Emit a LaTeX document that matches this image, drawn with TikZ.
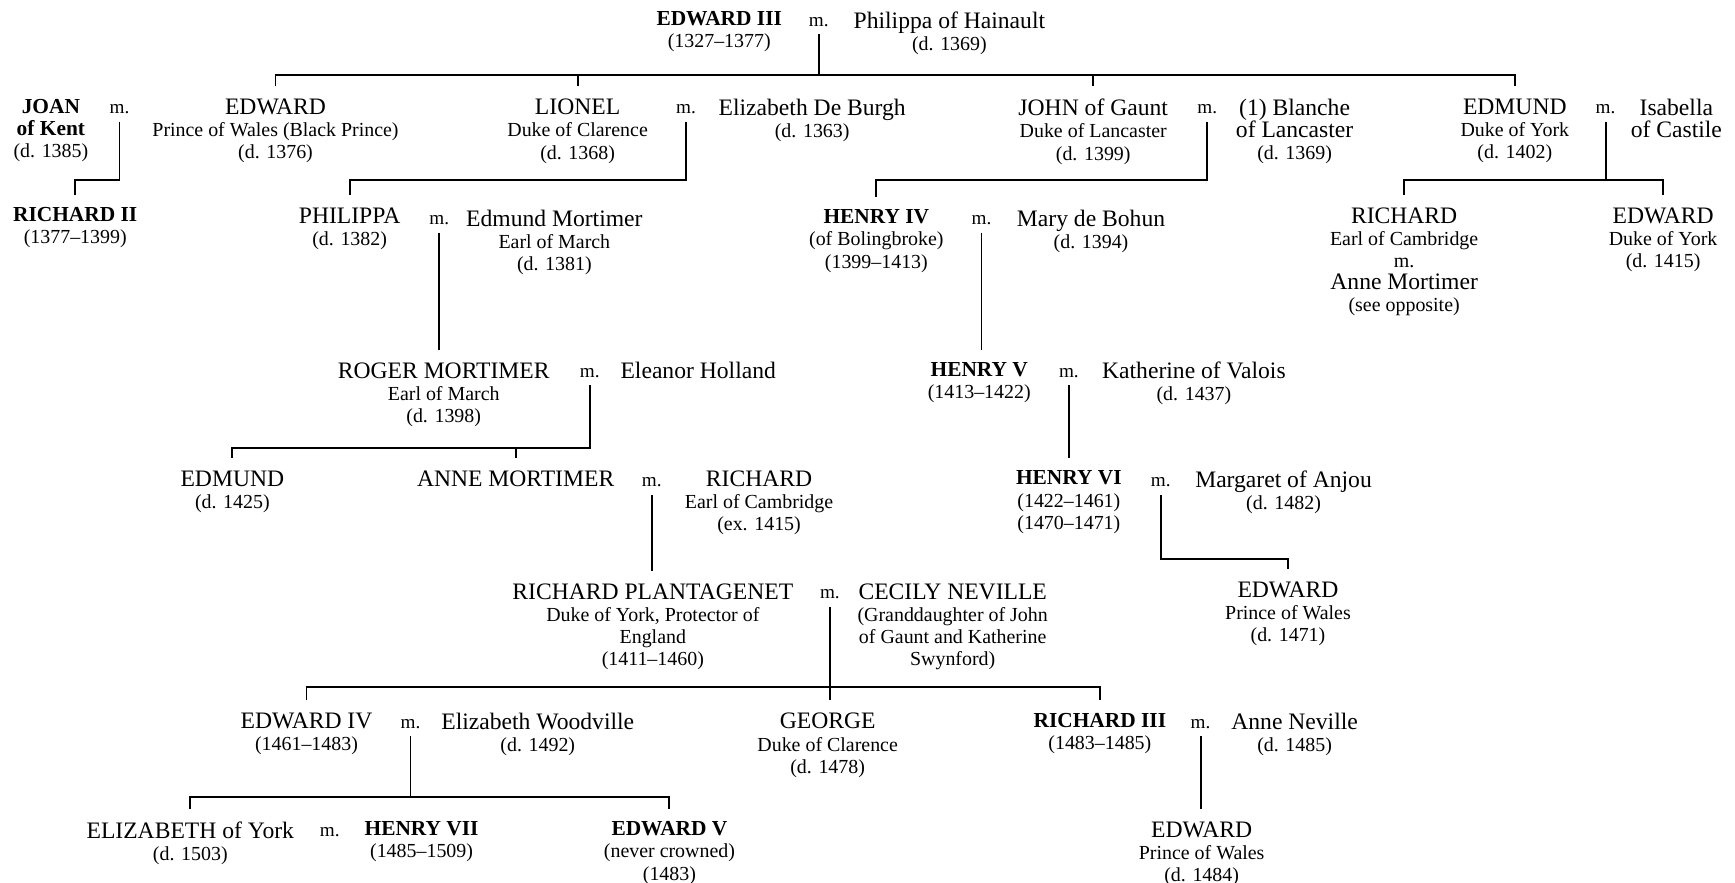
\documentclass[tikz,border=0pt]{standalone}
\usepackage{fontspec}
\setmainfont{Liberation Serif}
\usepackage{tikz}

\newcommand{\yr}[1]{{\fontsize{13.5}{15}\selectfont #1}}
\newcommand{\kg}[1]{{\fontsize{14.5}{15}\selectfont\bfseries #1}}

\tikzset{
  person/.style={align=center, anchor=north, inner xsep=0pt, inner ysep=8.5pt, font=\fontsize{16}{15}\selectfont},
  wed/.style={anchor=base, inner sep=5pt, font=\fontsize{13}{15}\selectfont},
  line/.style={line width=1.3pt}
}

\begin{document}
\begin{tikzpicture}[x=0.75pt,y=0.75pt,yscale=-1,xscale=1]
\useasboundingbox (0,0) rectangle (1568,798);

% Text Node
\node [person] (edw3) at (650,-1) {\kg{EDWARD III}\\\yr{(1327--1377)}};
\node [wed] (m0) at (740,24) {m.};
\node [person] (phh) at (858,-1) {Philippa of Hainault\\\yr{(d. 1369)}};

% Text Node
\node [person] (joan) at (46,78) {\kg{JOAN}\\\kg{of Kent}\\\yr{(d. 1385)}};
\node [wed] (mJ) at (108,103) {m.};
\node [person] (edw) at (249,78) {EDWARD\\\yr{Prince of Wales (Black Prince)}\\\yr{(d. 1376)}};
\node [person] (lio) at (522,78) {LIONEL\\\yr{Duke of Clarence}\\\yr{(d. 1368)}};
\node [wed] (mL) at (620,103) {m.};
\node [person] (eliz) at (734,78) {Elizabeth De Burgh\\\yr{(d. 1363)}};
\node [person] (john) at (988,78) {JOHN of Gaunt\\\yr{Duke of Lancaster}\\\yr{(d. 1399)}};
\node [wed] (mG) at (1091,103) {m.};
\node [person] (bla) at (1170,78) {(1) Blanche\\of Lancaster\\\yr{(d. 1369)}};
\node [person] (edm) at (1369,78) {EDMUND\\\yr{Duke of York}\\\yr{(d. 1402)}};
\node [wed] (mE) at (1451,103) {m.};
\node [person] (isa) at (1515,78) {Isabella\\of Castile};

% Text Node
\node [person] (ric2) at (68,176) {\kg{RICHARD II}\\\yr{(1377--1399)}};
\node [person] (phi) at (316,176) {PHILIPPA\\\yr{(d. 1382)}};
\node [wed] (mP) at (397,203) {m.};
\node [person] (emo) at (501,178) {Edmund Mortimer\\\yr{Earl of March}\\\yr{(d. 1381)}};
\node [person] (hen4) at (792,178) {\kg{HENRY IV}\\\yr{(of Bolingbroke)}\\\yr{(1399--1413)}};
\node [wed] (mH4) at (887,203) {m.};
\node [person] (mary) at (986,178) {Mary de Bohun\\\yr{(d. 1394)}};
\node [person] (ricC) at (1269,176) {RICHARD\\\yr{Earl of Cambridge}\\\yr{m.}\\Anne Mortimer\\\yr{(see opposite)}};
\node [person] (edY) at (1503,176) {EDWARD\\\yr{Duke of York}\\\yr{(d. 1415)}};

% Text Node
\node [person] (rog) at (401,316) {ROGER MORTIMER\\\yr{Earl of March}\\\yr{(d. 1398)}};
\node [wed] (mR) at (533,341) {m.};
\node [person] (ele) at (631,316) {Eleanor Holland};
\node [person] (hen5) at (885,316) {\kg{HENRY V}\\\yr{(1413--1422)}};
\node [wed] (mH5) at (966,341) {m.};
\node [person] (kat) at (1079,315) {Katherine of Valois\\\yr{(d. 1437)}};

% Text Node
\node [person] (edmM) at (210,414) {EDMUND\\\yr{(d. 1425)}};
\node [person] (anne) at (466,414) {ANNE MORTIMER};
\node [wed] (mA) at (589,440) {m.};
\node [person] (ricE) at (686,414) {RICHARD\\\yr{Earl of Cambridge}\\\yr{(ex. 1415)}};
\node [person] (hen6) at (966,414) {\kg{HENRY VI}\\\yr{(1422--1461)}\\\yr{(1470--1471)}};
\node [wed] (mH6) at (1049,440) {m.};
\node [person] (marg) at (1160,414) {Margaret of Anjou\\\yr{(d. 1482)}};

% Text Node
\node [person] (rpl) at (590,516) {RICHARD PLANTAGENET\\\yr{Duke of York, Protector of}\\\yr{England}\\\yr{(1411--1460)}};
\node [wed] (mRP) at (750,541) {m.};
\node [person] (cec) at (861,516) {CECILY NEVILLE\\\yr{(Granddaughter of John}\\\yr{of Gaunt and Katherine}\\\yr{Swynford)}};
\node [person] (edwP) at (1164,514) {EDWARD\\\yr{Prince of Wales}\\\yr{(d. 1471)}};

% Text Node
\node [person] (edw4) at (277,633) {EDWARD IV\\\yr{(1461--1483)}};
\node [wed] (mE4) at (371,658) {m.};
\node [person] (ewo) at (486,633) {Elizabeth Woodville\\\yr{(d. 1492)}};
\node [person] (geo) at (748,633) {GEORGE\\\yr{Duke of Clarence}\\\yr{(d. 1478)}};
\node [person] (ric3) at (994,633) {\kg{RICHARD III}\\\yr{(1483--1485)}};
\node [wed] (mR3) at (1085,658) {m.};
\node [person] (ann) at (1170,633) {Anne Neville\\\yr{(d. 1485)}};

% Text Node
\node [person] (eyo) at (172,731) {ELIZABETH of York\\\yr{(d. 1503)}};
\node [wed] (mEY) at (298,756) {m.};
\node [person] (hen7) at (381,731) {\kg{HENRY VII}\\\yr{(1485--1509)}};
\node [person] (edw5) at (605,731) {\kg{EDWARD V}\\\yr{(never crowned)}\\\yr{(1483)}};
\node [person] (edwP2) at (1086,731) {EDWARD\\\yr{Prince of Wales}\\\yr{(d. 1484)}};

% bar heights
\coordinate (bar0) at (0,68);
\coordinate (bar1) at (0,163);
\coordinate (barR) at (0,405);
\coordinate (barH6) at (0,505);
\coordinate (barRP) at (0,621);
\coordinate (barE4) at (0,720);

%Straight Lines
\draw [line] (m0.south) -- (m0.south |- bar0);
\draw [line] (edw.north) -- (edw.north |- bar0) -- (edm.north |- bar0) -- (edm.north);
\draw [line] (lio.north) -- (lio.north |- bar0);
\draw [line] (john.north) -- (john.north |- bar0);
%Straight Lines
\draw [line] (mJ.south) -- (mJ.south |- bar1) -| (ric2.north);
\draw [line] (mL.south) -- (mL.south |- bar1) -| (phi.north);
\draw [line] (mG.south) -- (mG.south |- bar1) -| (hen4.north);
\draw [line] (mE.south) -- (mE.south |- bar1);
\draw [line] (ricC.north) -- (ricC.north |- bar1) -- (edY.north |- bar1) -- (edY.north);
%Straight Lines
\draw [line] (mP.south) -- (mP.south |- rog.north);
\draw [line] (mH4.south) -- (mH4.south |- hen5.north);
\draw [line] (mR.south) -- (mR.south |- barR) -| (edmM.north);
\draw [line] (anne.north) -- (anne.north |- barR);
\draw [line] (mH5.south) -- (mH5.south |- hen6.north);
%Straight Lines
\draw [line] (mA.south) -- (mA.south |- rpl.north);
\draw [line] (mH6.south) -- (mH6.south |- barH6) -| (edwP.north);
\draw [line] (mRP.south) -- (mRP.south |- geo.north);
\draw [line] (edw4.north) -- (edw4.north |- barRP) -- (ric3.north |- barRP) -- (ric3.north);
%Straight Lines
\draw [line] (mE4.south) -- (mE4.south |- barE4);
\draw [line] (eyo.north) -- (eyo.north |- barE4) -- (edw5.north |- barE4) -- (edw5.north);
\draw [line] (mR3.south) -- (mR3.south |- edwP2.north);

\end{tikzpicture}
\end{document}
